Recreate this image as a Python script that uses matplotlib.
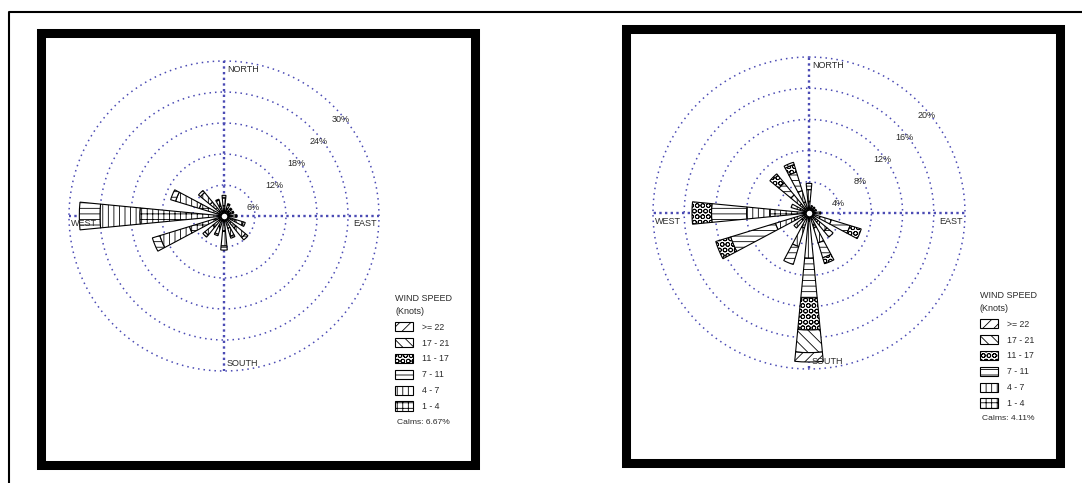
import numpy as np
import matplotlib.pyplot as plt
from matplotlib.patches import Rectangle, Patch
from matplotlib.lines import Line2D

plt.rcParams['font.family'] = ['Liberation Sans', 'DejaVu Sans']
plt.rcParams['hatch.linewidth'] = 0.6

W, H = 1082, 483

directions = ['N', 'NNE', 'NE', 'ENE', 'E', 'ESE', 'SE', 'SSE',
              'S', 'SSW', 'SW', 'WSW', 'W', 'WNW', 'NW', 'NNW']
speed_labels = ['1 - 4', '4 - 7', '7 - 11', '11 - 17', '17 - 21', '>= 22']
hatches = ['+++', '|||', '---', 'OOO', '\\\\\\', '///']

# left rose: percent of time, per speed class, directions N..NNW
left_1_4 = [2.0, 1.5, 1.2, 1.2, 1.5, 2.3, 3.0, 2.5, 3.0, 2.2, 2.8, 7.0, 16.3, 5.0, 3.5, 2.0]
left_4_7 = [1.5, 0.8, 0.6, 0.6, 0.8, 1.6, 2.4, 1.6, 2.8, 1.5, 2.0, 6.0, 7.7, 4.8, 2.4, 1.2]
left_7_11 = [0.5, 0.2, 0.2, 0.2, 0.2, 0.4, 0.6, 0.4, 0.8, 0.3, 0.5, 1.5, 4.0, 1.0, 0.5, 0.2]
left_11_17 = [0] * 16
left_17_21 = [0] * 16
left_22 = [0] * 16
left_rings = [6, 12, 18, 24, 30]
left_calms = 6.67

# right rose
right_1_4 = [1.5, 0.5, 0.5, 0.5, 0.8, 1.5, 1.5, 2.0, 1.0, 2.0, 1.2, 2.0, 5.0, 1.2, 1.5, 1.5]
right_4_7 = [1.5, 0.5, 0.5, 0.5, 0.7, 1.5, 1.5, 2.0, 4.8, 2.5, 1.3, 2.5, 3.0, 1.2, 1.5, 1.5]
right_7_11 = [0.8, 0, 0, 0, 0, 2.5, 1.0, 2.0, 5.1, 2.4, 0, 6.0, 4.5, 0, 2.0, 2.5]
right_11_17 = [0, 0, 0, 0, 0, 1.5, 0, 0.8, 4.1, 0, 0, 2.0, 2.5, 0, 1.5, 1.0]
right_17_21 = [0, 0, 0, 0, 0, 0, 0, 0, 2.9, 0, 0, 0, 0, 0, 0, 0.3]
right_22 = [0, 0, 0, 0, 0, 0, 0, 0, 1.2, 0, 0, 0, 0, 0, 0, 0]
right_rings = [4, 8, 12, 16, 20]
right_calms = 4.11

blue = '#4b4bb4'
txt = '#2a2a2a'


def fx(px):
    return px / W


def fy(py):
    return 1 - py / H


def frame(x0, y0, x1, y1, lw):
    r = Rectangle((fx(x0), fy(y1)), fx(x1) - fx(x0), fy(y0) - fy(y1),
                  transform=fig.transFigure, fill=False, ec='black', lw=lw,
                  joinstyle='miter')
    fig.add_artist(r)


def draw_rose(cx, cy, R, classes, rings, calms, lx, ly):
    ax = fig.add_axes([fx(cx - R), fy(cy + R), 2 * R / W, 2 * R / H],
                      projection='polar')
    ax.set_theta_zero_location('N')
    ax.set_theta_direction(-1)
    rmax = rings[-1]
    ax.set_ylim(0, rmax)
    ax.grid(False)
    ax.set_xticks([])
    ax.set_yticks([])
    ax.spines['polar'].set_visible(False)
    ax.patch.set_visible(False)

    t = np.linspace(0, 2 * np.pi, 400)
    for r in rings:
        ax.plot(t, [r] * len(t), ls=(0, (1, 2.6)), lw=1.1, color=blue, clip_on=False)
    for a in [0, np.pi / 2, np.pi, 3 * np.pi / 2]:
        ax.plot([a, a], [0, rmax], ls=(0, (1, 1.4)), lw=1.7, color=blue, clip_on=False)

    theta = np.deg2rad(np.arange(16) * 22.5)
    bottom = np.zeros(16)
    for vals, h in zip(classes, hatches):
        vals = np.array(vals, dtype=float)
        m = vals > 0
        ax.bar(theta[m], vals[m], width=np.deg2rad(11), bottom=bottom[m],
               facecolor='white', edgecolor='black', lw=0.8, hatch=h, zorder=3)
        bottom += vals
    ax.plot(0, 0, 'o', ms=5, mfc='white', mec='black', mew=1, zorder=5)

    for r in rings:
        ax.annotate('%d%%' % r, xy=(np.pi / 4, r), xytext=(7, -13),
                    textcoords='offset pixels', ha='center', va='center',
                    fontsize=6.5, color=txt)
    ax.annotate('NORTH', xy=(0, rmax), xytext=(3, -8), textcoords='offset pixels',
                ha='left', va='center', fontsize=6.5, color=txt)
    ax.annotate('SOUTH', xy=(np.pi, rmax), xytext=(3, 7), textcoords='offset pixels',
                ha='left', va='center', fontsize=6.5, color=txt)
    ax.annotate('WEST', xy=(3 * np.pi / 2, rmax), xytext=(2, -8), textcoords='offset pixels',
                ha='left', va='center', fontsize=6.5, color=txt)
    ax.annotate('EAST', xy=(np.pi / 2, rmax), xytext=(-2, -8), textcoords='offset pixels',
                ha='right', va='center', fontsize=6.5, color=txt)

    handles = [Patch(facecolor='white', edgecolor='black', hatch=h, lw=0.8)
               for h in hatches[::-1]]
    leg = fig.legend(handles, speed_labels[::-1], title='WIND SPEED\n(Knots)',
                     loc='upper left', bbox_to_anchor=(fx(lx), fy(ly)),
                     frameon=False, fontsize=6.3, title_fontsize=6.5,
                     handlelength=2.05, handleheight=1.25, labelspacing=0.72,
                     handletextpad=1.0, borderpad=0, borderaxespad=0,
                     alignment='left')
    for tt in leg.get_texts():
        tt.set_color(txt)
    leg.get_title().set_color(txt)
    leg.get_title().set_linespacing(1.55)
    fig.text(fx(lx + 2), fy(ly + 128), 'Calms: %.2f%%' % calms, va='center',
             fontsize=6.1, color=txt)


fig = plt.figure(figsize=(W / 100, H / 100), dpi=100)

# thin outer border only shows on the left and top
fig.add_artist(Line2D([fx(8.5), fx(8.5), fx(1082)], [fy(483), fy(12), fy(12)],
                      transform=fig.transFigure, color='black', lw=1.5))
frame(41, 33, 475, 465, 6.5)
frame(626.5, 29.5, 1060, 462.5, 6.5)

draw_rose(224, 216, 155,
          [left_1_4, left_4_7, left_7_11, left_11_17, left_17_21, left_22],
          left_rings, left_calms, 395, 294)
draw_rose(809, 213, 156,
          [right_1_4, right_4_7, right_7_11, right_11_17, right_17_21, right_22],
          right_rings, right_calms, 980, 291)

fig.savefig('out.png', dpi=100)
